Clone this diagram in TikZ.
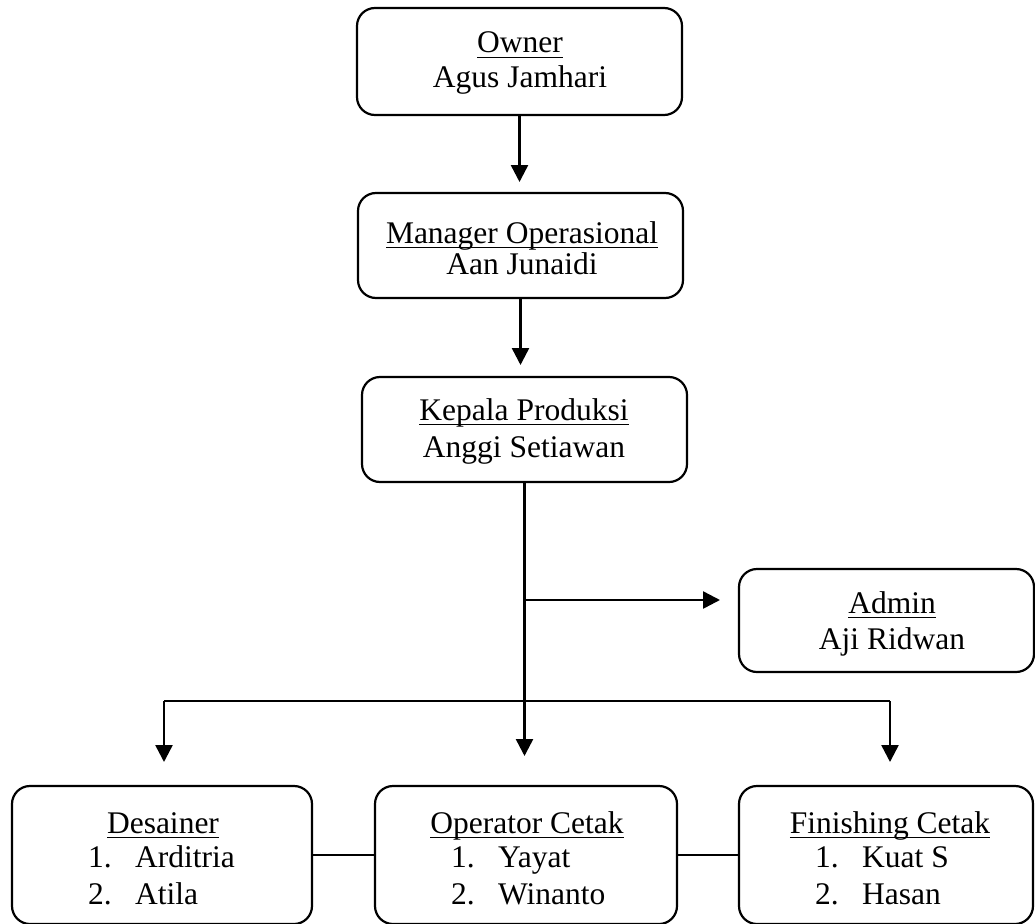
\documentclass[tikz,border=0pt]{standalone}
\usepackage{fontspec}
\setmainfont{Liberation Serif}
\usetikzlibrary{arrows.meta}
\newcommand{\ulx}[1]{\setbox0\hbox{#1}\rlap{\rule[-0.17em]{\wd0}{0.055em}}\box0}
\tikzset{
  box/.style={draw, line width=2.2pt, rounded corners=18pt, inner sep=0pt, outer sep=0pt},
  txt/.style={font=\fontsize{31.5pt}{36pt}\selectfont, inner sep=0pt, anchor=base},
  itm/.style={txt, anchor=base west},
  conn/.style={line width=2.5pt},
  arr/.style={conn, -{Triangle[length=17pt,width=17pt]}}
}
\begin{document}
\begin{tikzpicture}[x=1pt,y=-1pt]
\useasboundingbox (0,0) rectangle (1035,923);
\clip (0,0) rectangle (1035,923);
\fill[white] (0,0) rectangle (1035,923);
% boxes
\node[box, minimum width=325pt, minimum height=107pt] (owner) at (519.5,61.5) {};
\node[box, minimum width=325pt, minimum height=105pt] (manager) at (520.5,245.5) {};
\node[box, minimum width=325pt, minimum height=105pt] (kepala) at (524.5,429.5) {};
\node[box, minimum width=295pt, minimum height=103pt] (admin) at (886.5,620.5) {};
\node[box, minimum width=300pt, minimum height=138pt] (desainer) at (162,855) {};
\node[box, minimum width=302pt, minimum height=138pt] (operator) at (526,855) {};
\node[box, minimum width=294pt, minimum height=138pt] (finishing) at (886,855) {};
% texts
\node[txt] (t1a) at (520,53) {\ulx{Owner}};
\node[txt] (t1b) at (520,88) {Agus Jamhari};
\node[txt] (t2a) at (522,243) {\ulx{Manager Operasional}};
\node[txt] (t2b) at (522,274) {Aan Junaidi};
\node[txt] (t3a) at (524,420) {\ulx{Kepala Produksi}};
\node[txt] (t3b) at (524,457) {Anggi Setiawan};
\node[txt] (t4a) at (892,613) {\ulx{Admin}};
\node[txt] (t4b) at (892,649) {Aji Ridwan};
\node[txt] (t5a) at (163,833) {\ulx{Desainer}};
\node[itm] (t5b) at (88,867) {\makebox[47pt][l]{1.}Arditria};
\node[itm] (t5c) at (88,904) {\makebox[47pt][l]{2.}Atila};
\node[txt] (t6a) at (527,833) {\ulx{Operator Cetak}};
\node[itm] (t6b) at (451,867) {\makebox[47pt][l]{1.}Yayat};
\node[itm] (t6c) at (451,904) {\makebox[47pt][l]{2.}Winanto};
\node[txt] (t7a) at (890,833) {\ulx{Finishing Cetak}};
\node[itm] (t7b) at (815,867) {\makebox[47pt][l]{1.}Kuat S};
\node[itm] (t7c) at (815,904) {\makebox[47pt][l]{2.}Hasan};
% connectors
\draw[arr, shorten >=11pt] (owner.south) -- (owner.south |- manager.north);
\draw[arr, shorten >=12pt] (manager.south) -- (manager.south |- kepala.north);
\draw[arr, shorten >=30pt] (kepala.south) -- (kepala.south |- operator.north);
\coordinate (ja) at (524.5,600);
\draw[arr, shorten >=19pt] (ja) -- (ja -| admin.west);
\coordinate (bl) at (164,701);
\coordinate (br) at (890,701);
\draw[conn] (bl) -- (br);
\draw[arr, shorten >=24pt] (bl) -- (bl |- desainer.north);
\draw[arr, shorten >=24pt] (br) -- (br |- finishing.north);
\draw[conn] (desainer.east) -- (operator.west);
\draw[conn] (operator.east) -- (finishing.west);
\end{tikzpicture}
\end{document}
